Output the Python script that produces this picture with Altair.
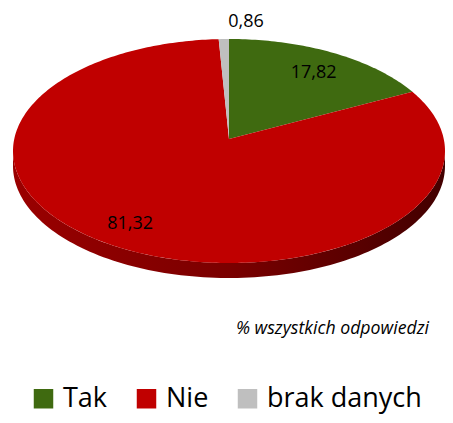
import numpy as np
import pandas as pd
import altair as alt

# ---- data ----
categories = ["Tak", "Nie", "brak danych"]
values = [17.82, 81.32, 0.86]
value_labels = ["17,82", "81,32", "0,86"]
colors = ["#3F6A10", "#C00000", "#BFBFBF"]
note = "% wszystkich odpowiedzi"

# ---- geometry (layout only) ----
CX, CY, RX, RY = 229, 151, 216, 112
APEX_Y = 139
DEPTH = 15
WARP = np.radians(6.7)  # perspective: far half looks compressed

total = sum(values)


def proj(theta, fx=1.0, fy=1.0):
    phi = theta - WARP * np.sin(theta)
    return CX + RX * np.sin(phi) * fx, CY - RY * np.cos(phi) * fy


rows = []
lab_rows = []
start = 0.0
for cat, v, lab in zip(categories, values, value_labels):
    a0 = start / total * 2 * np.pi
    a1 = (start + v) / total * 2 * np.pi
    n = max(4, int(np.degrees(a1 - a0)) + 2)
    ts = np.linspace(a0, a1, n)
    pts = [(CX, APEX_Y)] + [proj(t) for t in ts] + [(CX, APEX_Y)]
    for i, (px, py) in enumerate(pts):
        rows.append({"cat": cat, "i": i, "x": px, "y": py})
    m = (a0 + a1) / 2
    if v / total < 0.05:
        lx, ly = proj(m, 1.15, 1.15)
        lab_rows.append({"cat": cat, "label": lab, "x": lx + 23, "y": ly})
    else:
        lx, ly = proj(m, 0.82, 0.79)
        lab_rows.append({"cat": cat, "label": lab, "x": lx, "y": ly})
    start += v

slices = pd.DataFrame(rows)
labels_df = pd.DataFrame(lab_rows)

# side wall of the front half
ts = np.linspace(np.pi / 2, 3 * np.pi / 2, 120)
wall = [(CX + RX * np.sin(t), CY - RY * np.cos(t)) for t in ts]
wall += [(CX + RX * np.sin(t), CY - RY * np.cos(t) + DEPTH) for t in ts[::-1]]
wall_df = pd.DataFrame([{"i": i, "x": px, "y": py} for i, (px, py) in enumerate(wall)])

xs = alt.Scale(domain=[8, 445], nice=False, zero=False)
ys = alt.Scale(domain=[8, 415], nice=False, zero=False, reverse=True)


def X():
    return alt.X("x:Q", scale=xs, axis=None)


def Y():
    return alt.Y("y:Q", scale=ys, axis=None)


FONT = "Open Sans"

wall_layer = alt.Chart(wall_df).mark_line(
    filled=True,
    strokeWidth=0,
    fill=alt.Gradient(
        gradient="linear", x1=0, x2=1, y1=0, y2=0,
        stops=[
            alt.GradientStop(color="#9A0000", offset=0),
            alt.GradientStop(color="#7A0000", offset=0.5),
            alt.GradientStop(color="#420000", offset=1),
        ],
    ),
).encode(x=X(), y=Y(), order="i:Q")

slice_layer = alt.Chart(slices).mark_line(filled=True, strokeWidth=0, opacity=1).encode(
    x=X(),
    y=Y(),
    order="i:Q",
    detail="cat:N",
    color=alt.Color(
        "cat:N",
        scale=alt.Scale(domain=categories, range=colors),
        legend=alt.Legend(
            title=None,
            orient="none",
            legendX=22,
            legendY=377,
            direction="horizontal",
            symbolType="square",
            symbolSize=380,
            symbolStrokeWidth=0,
            symbolOpacity=1,
            labelFontSize=27,
            labelFont=FONT,
            labelColor="#000000",
            labelOffset=6,
            columnPadding=25,
            labelLimit=300,
        ),
    ),
)

label_layer = alt.Chart(labels_df).mark_text(fontSize=18, font=FONT, color="#000000").encode(
    x=X(), y=Y(), text="label:N"
)

note_layer = alt.Chart(pd.DataFrame({"t": [note]})).mark_text(
    fontSize=17.7, font=FONT, fontStyle="italic", color="#000000", align="right", baseline="alphabetic"
).encode(x=alt.value(421), y=alt.value(326), text="t:N")

chart = alt.layer(wall_layer, slice_layer, label_layer, note_layer).properties(
    width=437, height=407, autosize="none", padding=0
).configure_view(stroke=None)

chart.save("out.html", embed_options={"renderer": "svg", "actions": False})
